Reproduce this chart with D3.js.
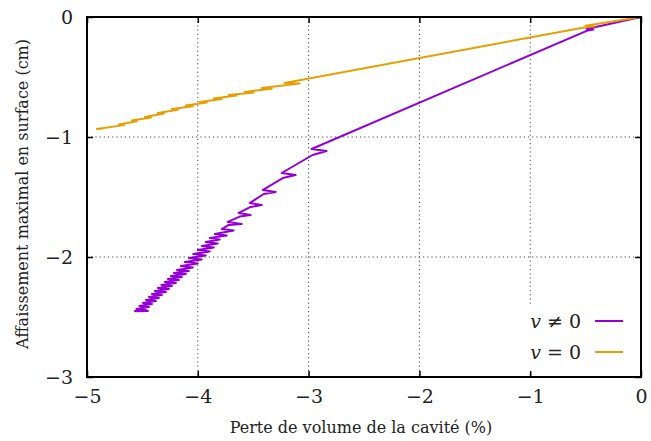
<!DOCTYPE html>
<html lang="fr">
<head>
<meta charset="UTF-8">
<title>Affaissement</title>
<style>
  body { margin: 0; background: #fff; }
</style>
</head>
<body>
<div id="chart"></div>
<script src="https://d3js.org/d3.v7.min.js"></script>
<script>
// data (x: volume loss %, y: settlement cm)
const xTicks = [-5, -4, -3, -2, -1, 0]
const yTicks = [-3, -2, -1, 0]
const xTitle = "Perte de volume de la cavité (%)"
const yTitle = "Affaissement maximal en surface (cm)"
const seriesNames = ["≠ 0", "= 0"]

const vNonZero = [
  [0, 0], [-0.49, -0.100], [-0.43, -0.105], [-0.49, -0.115],
  [-2.973, -1.100], [-2.838, -1.117], [-2.964, -1.150],
  [-3.243, -1.300], [-3.117, -1.317], [-3.234, -1.342],
  [-3.414, -1.442], [-3.297, -1.458], [-3.405, -1.475],
  [-3.532, -1.550], [-3.423, -1.567], [-3.523, -1.583],
  [-3.631, -1.633], [-3.523, -1.650], [-3.622, -1.663],
  [-3.730, -1.708], [-3.604, -1.725], [-3.721, -1.733],
  [-3.784, -1.767], [-3.676, -1.779],
  [-3.847, -1.808], [-3.739, -1.821],
  [-3.892, -1.842], [-3.802, -1.854],
  [-3.928, -1.875], [-3.820, -1.888],
  [-3.964, -1.908], [-3.856, -1.921],
  [-4.000, -1.942], [-3.892, -1.954],
  [-4.041, -1.975], [-3.928, -1.988],
  [-4.081, -2.008], [-3.964, -2.021],
  [-4.117, -2.042], [-4.000, -2.054],
  [-4.153, -2.075], [-4.045, -2.088],
  [-4.189, -2.108], [-4.081, -2.117],
  [-4.216, -2.133], [-4.108, -2.142],
  [-4.243, -2.158], [-4.144, -2.167],
  [-4.270, -2.183], [-4.171, -2.192],
  [-4.297, -2.208], [-4.198, -2.217],
  [-4.329, -2.233], [-4.234, -2.242],
  [-4.360, -2.258], [-4.261, -2.267],
  [-4.387, -2.283], [-4.288, -2.292],
  [-4.414, -2.308], [-4.324, -2.317],
  [-4.441, -2.333], [-4.351, -2.342],
  [-4.468, -2.358], [-4.378, -2.367],
  [-4.495, -2.383], [-4.414, -2.392],
  [-4.527, -2.408], [-4.441, -2.417],
  [-4.554, -2.433], [-4.468, -2.442],
  [-4.568, -2.450], [-4.450, -2.450], [-4.568, -2.452]
]

const vZero = [
  [0, 0], [-0.50, -0.072], [-0.42, -0.078], [-0.50, -0.085],
  [-3.216, -0.550], [-3.081, -0.555],
  [-3.423, -0.592], [-3.333, -0.597],
  [-3.577, -0.625], [-3.495, -0.630],
  [-3.721, -0.650], [-3.649, -0.655],
  [-3.856, -0.679], [-3.784, -0.684],
  [-3.982, -0.708], [-3.919, -0.713],
  [-4.108, -0.738], [-4.045, -0.743],
  [-4.234, -0.767], [-4.180, -0.772],
  [-4.360, -0.800], [-4.306, -0.805],
  [-4.477, -0.833], [-4.423, -0.838],
  [-4.595, -0.863], [-4.550, -0.868],
  [-4.712, -0.896], [-4.667, -0.901],
  [-4.910, -0.933], [-4.850, -0.930]
]

const COLORS = ["#9400d3", "#e69f00"]
const FONT = "DejaVu Serif"

const MARGIN = { LEFT: 87, RIGHT: 10, TOP: 17, BOTTOM: 64 }
const W = 651, H = 441
const WIDTH = W - MARGIN.LEFT - MARGIN.RIGHT
const HEIGHT = H - MARGIN.TOP - MARGIN.BOTTOM

const svg = d3.select("#chart").append("svg")
    .attr("width", W)
    .attr("height", H)
    .attr("font-family", FONT)

const g = svg.append("g")
    .attr("transform", `translate(${MARGIN.LEFT}, ${MARGIN.TOP})`)

const x = d3.scaleLinear().domain([-5, 0]).range([0, WIDTH])
const y = d3.scaleLinear().domain([-3, 0]).range([HEIGHT, 0])

// grid
g.append("g").selectAll("line")
    .data(xTicks.filter(t => t > -5 && t < 0))
    .join("line")
    .attr("x1", d => x(d)).attr("x2", d => x(d))
    .attr("y1", 0).attr("y2", HEIGHT)
    .attr("stroke", "#444").attr("stroke-width", 1)
    .attr("stroke-dasharray", "1.2,3")
g.append("g").selectAll("line")
    .data(yTicks.filter(t => t > -3 && t < 0))
    .join("line")
    .attr("x1", 0).attr("x2", WIDTH)
    .attr("y1", d => y(d)).attr("y2", d => y(d))
    .attr("stroke", "#444").attr("stroke-width", 1)
    .attr("stroke-dasharray", "1.2,3")

// curves
const line = d3.line().x(d => x(d[0])).y(d => y(d[1]))
;[vNonZero, vZero].forEach((s, i) => {
    g.append("path")
        .attr("d", line(s))
        .attr("fill", "none")
        .attr("stroke", COLORS[i])
        .attr("stroke-width", 2)
        .attr("stroke-linejoin", "round")
})

// legend box hides the grid behind it
const legend = g.append("g")
legend.append("rect")
    .attr("x", 420).attr("y", 289)
    .attr("width", 130).attr("height", 67)
    .attr("fill", "#fff")
seriesNames.forEach((name, i) => {
    const ly = 304 + i * 31
    const t = legend.append("text")
        .attr("x", 494).attr("y", ly)
        .attr("dy", "0.35em")
        .attr("text-anchor", "end")
        .attr("font-family", FONT)
        .attr("fill", "#222")
        .style("font-size", "19px")
    t.append("tspan").style("font-style", "italic").text("v")
    t.append("tspan").text(" " + name)
    legend.append("line")
        .attr("x1", 508).attr("x2", 536)
        .attr("y1", ly).attr("y2", ly)
        .attr("stroke", COLORS[i])
        .attr("stroke-width", 2)
})

// axes with inward ticks
const fmt = d3.format("d")
const xAxis = g.append("g")
    .attr("transform", `translate(0, ${HEIGHT})`)
    .call(d3.axisBottom(x).tickValues(xTicks).tickFormat(fmt).tickSize(-6).tickPadding(13))
const yAxis = g.append("g")
    .call(d3.axisLeft(y).tickValues(yTicks).tickFormat(fmt).tickSize(-6).tickPadding(14))
g.append("g")
    .call(d3.axisTop(x).tickValues(xTicks).tickSize(-6).tickFormat(""))
g.append("g")
    .attr("transform", `translate(${WIDTH}, 0)`)
    .call(d3.axisRight(y).tickValues(yTicks).tickSize(-6).tickFormat(""))

g.selectAll(".domain").remove()
g.selectAll(".tick line").attr("stroke", "#000").attr("stroke-width", 1.5)
g.selectAll("g").attr("font-family", FONT)
;[xAxis, yAxis].forEach(a => a.selectAll("text")
    .attr("font-family", FONT)
    .style("font-size", "19px")
    .attr("fill", "#222"))

// frame
g.append("rect")
    .attr("width", WIDTH).attr("height", HEIGHT)
    .attr("fill", "none")
    .attr("stroke", "#000")
    .attr("stroke-width", 2)

// titles
svg.append("text")
    .attr("x", MARGIN.LEFT + WIDTH / 2 - 3)
    .attr("y", 433)
    .attr("text-anchor", "middle")
    .attr("font-family", FONT)
    .attr("fill", "#222")
    .style("font-size", "16px")
    .text(xTitle)
svg.append("text")
    .attr("transform", `translate(28, 194) rotate(-90)`)
    .attr("text-anchor", "middle")
    .attr("font-family", FONT)
    .attr("fill", "#222")
    .style("font-size", "16px")
    .text(yTitle)
</script>
</body>
</html>
